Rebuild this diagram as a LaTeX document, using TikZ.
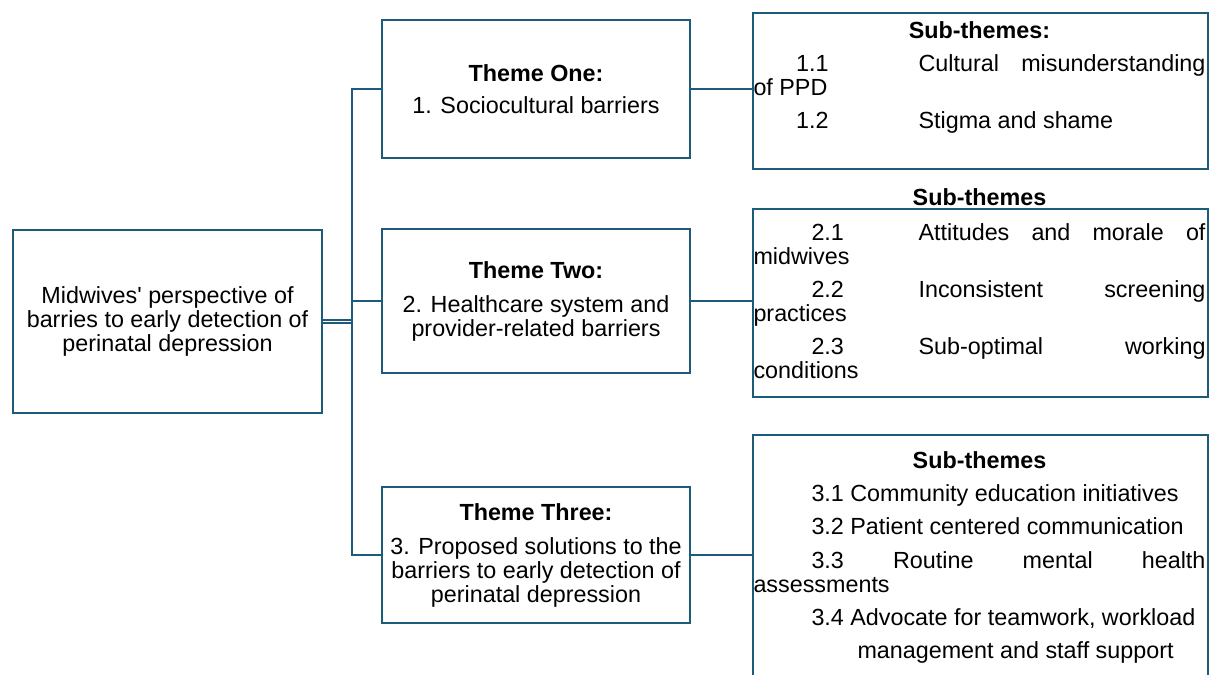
\documentclass[tikz,border=0pt]{standalone}
\usepackage{fontspec}
\setmainfont{Liberation Sans}
\usepackage{xcolor}
\usepackage{tikz}
\usetikzlibrary{positioning,calc}

\definecolor{framecol}{HTML}{1D5B7B}

\begin{document}
\begin{tikzpicture}[
    x=0.75pt, y=-0.75pt,
    font=\fontsize{17.5}{18}\selectfont,
    box/.style={rectangle, draw=framecol, line width=1.7pt, inner sep=0pt},
    themebox/.style={box, minimum width=231pt, align=center},
    subbox/.style={box, minimum width=341.25pt, anchor=north west},
    subtext/.style={text width=339pt, align=justify, inner sep=0pt, anchor=north,
        execute at begin node={\setlength{\parskip}{7pt}\setlength{\parindent}{0pt}}},
    link/.style={draw=framecol, line width=1.7pt}
]
    \useasboundingbox (0,0) rectangle (1211,675);
    \clip (0,0) rectangle (1211,675);

    % main topic
    \node[box, minimum width=231.75pt, minimum height=137.25pt, align=center] (main) at (167.5,321.5)
        {Midwives\textquotesingle\ perspective of\\barries to early detection of\\perinatal depression};

    % themes
    \node[themebox, minimum height=103.5pt] (themeone) at (536,89)
        {\textbf{Theme One:}\\[6pt]1. Sociocultural barriers};
    \node[themebox, minimum height=108pt] (themetwo) at (536,301)
        {\textbf{Theme Two:}\\[7.5pt]2. Healthcare system and\\provider-related barriers};
    \node[themebox, minimum height=102pt] (themethree) at (536,555)
        {\textbf{Theme Three:}\\[7.5pt]3. Proposed solutions to the\\barriers to early detection of\\perinatal depression};

    % sub-themes
    \node[subbox, minimum height=117pt] (subone) at (752,12) {};
    \node[subtext] (subonetext) at (979.5,21) {\centerline{\bfseries Sub-themes:}\par
        \hspace*{32pt}1.1\hspace{67.5pt}Cultural misunderstanding\linebreak of PPD\par
        \hspace*{32pt}1.2\hspace{67.5pt}Stigma and shame};

    \node[subbox, minimum height=141pt] (subtwo) at (752,208) {};
    \node[font=\fontsize{17.5}{18}\selectfont\bfseries] (subtwotitle) at (979.5,197) {Sub-themes};
    \node[subtext] (subtwotext) at (979.5,223) {%
        \hspace*{43.5pt}2.1\hspace{56pt}Attitudes and morale of\linebreak midwives\par
        \hspace*{43.5pt}2.2\hspace{56pt}Inconsistent screening\linebreak practices\par
        \hspace*{43.5pt}2.3\hspace{56pt}Sub-optimal working\linebreak conditions};

    \node[subbox, minimum height=199.5pt] (subthree) at (752,434) {};
    \node[subtext] (subthreetext) at (979.5,451) {\centerline{\bfseries Sub-themes}\par
        \hspace*{43.5pt}3.1 Community education initiatives\par
        \hspace*{43.5pt}3.2 Patient centered communication\par
        \hspace*{43.5pt}3.3 Routine mental health\linebreak assessments\par
        \hspace*{43.5pt}3.4 Advocate for teamwork, workload\par
        \hspace*{78pt}management and staff support};

    % connectors
    \coordinate (hub) at (352,321.5);
    \draw[link, double=white, double distance=0.75pt] (main.east) -- (hub);
    \draw[link] (themeone.west) -| (hub) |- (themethree.west);
    \draw[link] (hub |- themetwo.west) -- (themetwo.west);

    \draw[link] (themeone.east) -- (themeone.east -| subone.west);
    \draw[link] (themetwo.east) -- (themetwo.east -| subtwo.west);
    \draw[link] (themethree.east) -- (themethree.east -| subthree.west);
\end{tikzpicture}
\end{document}
